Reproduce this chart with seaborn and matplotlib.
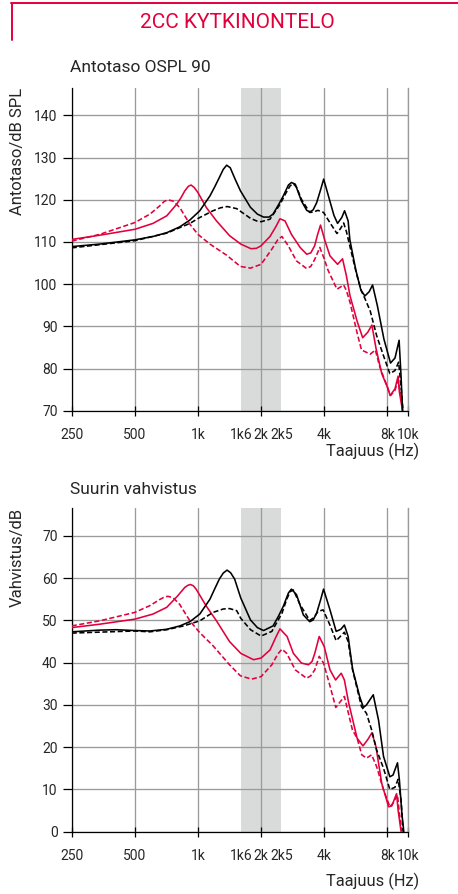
import numpy as np
import pandas as pd
import matplotlib
matplotlib.use("Agg")
import matplotlib.pyplot as plt
from matplotlib import font_manager as fm
from matplotlib.ticker import FixedLocator, FixedFormatter
import seaborn as sns

# ---------------- data ----------------
# Top chart: Antotaso OSPL 90 (dB SPL)
ospl_black_f = [250, 340, 500, 610, 710, 820, 915, 1020, 1140, 1200, 1265, 1320, 1370, 1425, 1500, 1595,
                1780, 1920, 2055, 2180, 2280, 2420, 2550, 2700, 2790, 2910, 3115, 3300, 3410, 3540, 3680,
                3850, 3975, 4255, 4450, 4630, 4850, 5000, 5200, 5300, 5660, 5980, 6250, 6550, 6800, 7160,
                7700, 8280, 8700, 9100, 9300, 9450]
ospl_black_v = [108.9, 109.5, 110.5, 111.3, 112.2, 113.6, 115.2, 117.4, 120.9, 123.0, 125.3, 127.2, 128.2,
                127.6, 125.0, 122.1, 118.2, 116.6, 115.9, 115.9, 116.6, 118.8, 120.9, 123.5, 124.1, 123.7,
                119.7, 117.5, 117.1, 117.6, 119.3, 122.5, 124.9, 119.7, 116.3, 114.4, 115.8, 117.4, 115.0,
                110.5, 103.3, 98.6, 97.2, 98.2, 99.8, 95.0, 87.0, 81.3, 82.5, 86.7, 78.0, 70.0]

ospl_black_dash_f = [250, 500, 710, 915, 1020, 1180, 1280, 1380, 1530, 1780, 1900, 2000, 2205, 2460, 2620,
                     2750, 2850, 2950, 3115, 3410, 3560, 3730, 3970, 4255, 4600, 4800, 4950, 5100, 5390,
                     5700, 6000, 6250, 6630, 7110, 7670, 8220, 8690, 9050, 9300, 9500]
ospl_black_dash_v = [108.6, 110.3, 112.1, 114.4, 115.8, 117.4, 118.1, 118.4, 117.9, 115.6, 115.0, 114.8,
                     115.4, 118.9, 121.5, 123.3, 123.8, 123.0, 120.1, 117.0, 117.1, 117.5, 117.0, 114.6,
                     112.0, 113.3, 114.5, 112.5, 107.5, 102.5, 98.5, 96.6, 93.6, 87.8, 83.0, 78.8, 79.5,
                     81.5, 75.6, 70.0]

ospl_red_f = [250, 340, 500, 610, 710, 790, 830, 865, 900, 927, 960, 1000, 1095, 1225, 1414, 1600, 1790,
              1900, 2000, 2205, 2350, 2460, 2600, 2790, 3070, 3300, 3450, 3600, 3720, 3840, 4030, 4260,
              4630, 4890, 5100, 5310, 5740, 6100, 6450, 6750, 7060, 7520, 8000, 8250, 8700, 9000, 9130,
              9450]
ospl_red_v = [110.6, 111.6, 113.0, 114.4, 116.2, 118.9, 120.5, 122.1, 123.2, 123.5, 122.9, 121.7, 118.2,
              115.0, 111.5, 109.5, 108.4, 108.5, 109.1, 111.3, 113.6, 115.5, 115.0, 111.8, 108.7, 107.1,
              107.4, 109.1, 111.8, 114.0, 110.3, 106.7, 104.7, 106.0, 102.0, 97.2, 91.2, 87.3, 88.6,
              90.3, 84.8, 78.8, 75.6, 73.6, 75.2, 78.2, 74.4, 70.0]

ospl_red_dash_f = [250, 340, 500, 590, 655, 690, 718, 760, 818, 915, 1000, 1140, 1366, 1593, 1780, 2000,
                   2250, 2400, 2514, 2695, 2950, 3295, 3450, 3605, 3810, 4000, 4170, 4600, 4950, 5100, 5315,
                   5740, 6020, 6630, 7010, 7360, 8000, 8280, 8690, 9000, 9300, 9450]
ospl_red_dash_v = [110.2, 111.8, 114.6, 116.6, 118.5, 119.6, 120.0, 119.7, 118.2, 114.2, 111.8, 109.5,
                   106.9, 104.2, 103.8, 104.7, 108.3, 110.5, 111.3, 109.1, 105.5, 103.7, 104.2, 105.9,
                   108.7, 106.0, 103.3, 98.8, 99.8, 98.5, 95.6, 88.4, 84.4, 83.4, 84.4, 80.4, 75.6, 73.6,
                   74.8, 77.2, 73.2, 70.0]

# Bottom chart: Suurin vahvistus (dB)
gain_black_f = [250, 340, 405, 500, 590, 710, 820, 915, 1020, 1140, 1200, 1265, 1320, 1376, 1430, 1495,
                1600, 1780, 1920, 2055, 2280, 2420, 2550, 2700, 2790, 2950, 3180, 3410, 3540, 3680, 3850,
                3970, 4260, 4560, 4800, 4990, 5200, 5460, 5900, 6150, 6360, 6850, 7260, 7670, 8220, 8510,
                8940, 9130, 9380, 9580]
gain_black_v = [47.3, 47.7, 47.8, 47.6, 47.5, 47.9, 48.7, 49.7, 51.5, 55.0, 57.4, 59.8, 61.2, 61.9, 61.3,
                59.8, 55.3, 50.1, 48.3, 47.6, 48.7, 51.0, 53.3, 56.5, 57.4, 56.1, 51.3, 49.7, 50.1, 51.7,
                55.0, 57.4, 52.5, 47.4, 47.9, 48.9, 46.2, 38.5, 32.0, 29.4, 30.0, 32.4, 26.4, 17.8, 13.0,
                13.4, 16.3, 12.2, 4.3, 0.0]

gain_black_dash_f = [250, 500, 590, 710, 855, 1020, 1180, 1320, 1414, 1530, 1600, 1780, 2000, 2250, 2515,
                     2650, 2750, 2850, 3070, 3410, 3560, 3730, 3950, 4250, 4560, 4990, 5200, 5460, 6020,
                     6360, 6730, 7110, 7670, 8220, 8690, 9000, 9300, 9510]
gain_black_dash_v = [47.0, 47.5, 47.3, 47.8, 48.7, 49.9, 51.9, 52.7, 52.8, 52.3, 50.5, 47.8, 46.3, 47.4,
                     51.7, 55.0, 56.8, 57.2, 53.7, 50.0, 50.6, 52.1, 52.5, 49.0, 45.2, 47.2, 45.0, 38.3,
                     29.6, 28.0, 24.1, 19.3, 15.0, 10.0, 10.5, 12.4, 7.5, 0.0]

gain_red_f = [250, 340, 500, 610, 710, 800, 865, 895, 920, 950, 980, 1095, 1225, 1414, 1600, 1840, 2000,
              2205, 2350, 2460, 2660, 2850, 3115, 3365, 3500, 3605, 3785, 4000, 4260, 4530, 4820, 4990,
              5230, 5740, 6120, 6450, 6750, 7060, 7520, 8110, 8400, 8850, 9000, 9300]
gain_red_v = [48.3, 49.1, 50.3, 51.5, 53.1, 55.8, 57.8, 58.3, 58.5, 58.2, 57.4, 53.4, 49.9, 45.0, 42.2,
              40.7, 41.1, 43.0, 46.0, 48.0, 46.2, 42.2, 39.9, 39.5, 40.3, 42.2, 46.2, 43.8, 38.3, 35.9,
              37.5, 35.9, 30.5, 22.1, 20.3, 21.8, 23.4, 20.1, 11.4, 5.9, 6.1, 9.0, 5.1, 0.0]

gain_red_dash_f = [250, 340, 500, 590, 655, 690, 718, 760, 818, 915, 1020, 1180, 1414, 1593, 1800, 2000,
                   2250, 2400, 2514, 2650, 2910, 3295, 3450, 3605, 3785, 3970, 4260, 4540, 4990, 5450,
                   5740, 6040, 6360, 6730, 7110, 7670, 8220, 8500, 8940, 9130, 9380]
gain_red_dash_v = [48.7, 49.9, 51.9, 53.5, 54.9, 55.5, 55.7, 55.4, 53.8, 49.9, 47.1, 44.0, 39.5, 36.9,
                   36.1, 36.7, 39.5, 42.0, 43.2, 42.2, 38.3, 36.3, 36.9, 38.3, 41.5, 39.9, 34.5, 29.4,
                   32.0, 24.1, 22.1, 18.2, 17.4, 18.2, 15.4, 9.9, 5.9, 6.7, 8.7, 4.3, 0.0]

x_major = [250, 500, 1000, 2000, 4000, 8000, 10000]
x_major_labels = ["250", "500", "1k", "2k", "4k", "8k", "10k"]
x_minor = [1600, 2500]
x_minor_labels = ["1k6", "2k5"]
band = (1600, 2500)

title = "2CC KYTKINONTELO"
top_title = "Antotaso OSPL 90"
top_ylabel = "Antotaso/dB SPL"
bot_title = "Suurin vahvistus"
bot_ylabel = "Vahvistus/dB"
xlabel = "Taajuus (Hz)"

# ---------------- style ----------------
sns.set_style("white")
names = {f.name for f in fm.fontManager.ttflist}
narrow = "Liberation Sans Narrow" if "Liberation Sans Narrow" in names else "Roboto"
plt.rcParams["font.family"] = [narrow, "DejaVu Sans"]

CRIMSON = "#e2003c"
GRID = "#9b9b9b"
BAND = "#d9dbdb"

W, H = 458, 894
fig = plt.figure(figsize=(W / 100, H / 100), dpi=100)


def fx(px):
    return px / W


def fy(py):
    return 1 - py / H


ax_top = fig.add_axes([fx(71.7), fy(410.7), fx(407.7) - fx(71.7), fy(88) - fy(410.7)])
ax_bot = fig.add_axes([fx(71.7), fy(831.7), fx(407.7) - fx(71.7), fy(508) - fy(831.7)])


def draw(ax, series, ylim, yticks):
    ax.axvspan(band[0], band[1], color=BAND, lw=0, zorder=0)
    for f, v, col, dashed in series:
        df = pd.DataFrame({"f": f, "v": v})
        kw = dict(linestyle=(0, (3.2, 1.6))) if dashed else dict(linestyle="-")
        sns.lineplot(data=df, x="f", y="v", ax=ax, color=col, lw=1.15, estimator=None,
                     sort=False, zorder=3, **kw)
    ax.set_xscale("log")
    ax.set_xlim(250, 10000)
    ax.set_ylim(*ylim)
    ax.xaxis.set_major_locator(FixedLocator(x_major))
    ax.xaxis.set_major_formatter(FixedFormatter(x_major_labels))
    ax.xaxis.set_minor_locator(FixedLocator(x_minor))
    ax.xaxis.set_minor_formatter(FixedFormatter(x_minor_labels))
    ax.set_yticks(yticks)
    ax.set_yticklabels([str(t) for t in yticks])
    ax.grid(True, which="major", color=GRID, lw=0.95, zorder=1)
    ax.grid(False, which="minor")
    ax.set_axisbelow(True)
    ax.spines["top"].set_visible(False)
    ax.spines["right"].set_color(GRID)
    ax.spines["right"].set_linewidth(0.95)
    for s in ["left", "bottom"]:
        ax.spines[s].set_color("black")
        ax.spines[s].set_linewidth(0.9)
    ax.tick_params(axis="x", which="major", direction="inout", length=7, width=0.9,
                   color="black", pad=8.7, labelsize=10)
    ax.tick_params(axis="x", which="minor", length=0, pad=12.2, labelsize=10)
    ax.tick_params(axis="y", which="major", direction="out", length=6.2, width=0.9,
                   color="black", pad=4, labelsize=10)
    ax.tick_params(left=True, bottom=True)
    ax.set_xlabel("")
    ax.set_ylabel("")


top_series = [
    (ospl_red_dash_f, ospl_red_dash_v, CRIMSON, True),
    (ospl_red_f, ospl_red_v, CRIMSON, False),
    (ospl_black_dash_f, ospl_black_dash_v, "black", True),
    (ospl_black_f, ospl_black_v, "black", False),
]
bot_series = [
    (gain_red_dash_f, gain_red_dash_v, CRIMSON, True),
    (gain_red_f, gain_red_v, CRIMSON, False),
    (gain_black_dash_f, gain_black_dash_v, "black", True),
    (gain_black_f, gain_black_v, "black", False),
]

draw(ax_top, top_series, (70, 146.5), list(range(70, 141, 10)))
draw(ax_bot, bot_series, (0, 76.6), list(range(0, 71, 10)))

for ax, ylab, xl_y in [(ax_top, top_ylabel, -0.127), (ax_bot, bot_ylabel, -0.1545)]:
    ax.set_ylabel(ylab, loc="top", fontsize=12)
    ax.yaxis.set_label_coords(-0.139, 1.0)
    ax.set_xlabel(xlabel, fontsize=11.8, ha="right", va="center")
    ax.xaxis.set_label_coords(1.0336, xl_y)

fig.text(fx(70), fy(68), top_title, ha="left", va="center", fontsize=12.5)
fig.text(fx(70), fy(490), bot_title, ha="left", va="center", fontsize=12.5)

# header with crimson bracket
fig.text(fx(237), fy(22), title, ha="center", va="center", fontsize=15, color=CRIMSON,
         family=["Roboto", "DejaVu Sans"])
fig.add_artist(plt.Line2D([fx(12), fx(12)], [fy(3.3), fy(40)], color=CRIMSON, lw=1.4,
                          transform=fig.transFigure))
fig.add_artist(plt.Line2D([fx(11.3), 1.0], [fy(3.3), fy(3.3)], color=CRIMSON, lw=1.4,
                          transform=fig.transFigure))

fig.savefig("out.png", dpi=100)
